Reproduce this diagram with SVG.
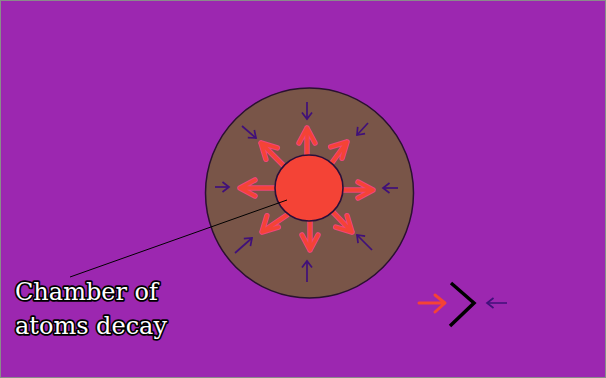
<svg xmlns="http://www.w3.org/2000/svg" xmlns:xlink="http://www.w3.org/1999/xlink" width="606" height="378" viewBox="0 0 606 378">
  <style>
    .bg { fill: #9c27b0; stroke: #8a8a8a; stroke-width: 1; }
    .chamber { fill: #795548; stroke: #2a1030; stroke-width: 1.5; }
    .core { fill: #f44336; stroke: #2a0f3a; stroke-width: 1.6; }
    .halo { stroke: #f0457a; stroke-width: 5.5; fill: none; stroke-linecap: round; stroke-linejoin: round; }
    .ray { stroke: #f44336; stroke-width: 3.5; fill: none; stroke-linecap: round; stroke-linejoin: round; }
    .inward { stroke: #40107a; stroke-width: 1.7; fill: none; marker-end: url(#smallHead); }
    .pointer { stroke: #000; stroke-width: 1; fill: none; }
    .label { font-family: "DejaVu Serif", "Liberation Serif", serif; font-size: 24px; fill: #fff; stroke: #000; stroke-width: 3.4; paint-order: stroke; stroke-linejoin: round; }
    .legendRed { stroke: #f44336; stroke-width: 3; fill: none; stroke-linecap: round; stroke-linejoin: round; }
    .chevron { stroke: #000; stroke-width: 3.5; fill: none; }
    .legendSmall { stroke: #40107a; stroke-width: 1.5; fill: none; marker-end: url(#smallHead); }
  </style>
  <defs>
    <marker id="smallHead" markerUnits="userSpaceOnUse" markerWidth="20" markerHeight="20" viewBox="-10 -10 20 20" refX="0" refY="0" orient="auto" overflow="visible">
      <path d="M-6.5,-5 L0,0 L-6.5,5" fill="none" stroke="#40107a" stroke-width="1.7"/>
    </marker>
    <g id="rays">
      <path d="M307,160 L307,128 M299,143 L307,128 L315,143"/>
      <path d="M310,215 L310,250 M302,235 L310,250 L318,235"/>
      <path d="M280,188 L240,188 M255,180 L240,188 L255,196"/>
      <path d="M338,190 L373,190 M358,182 L373,190 L358,198"/>
      <path d="M288,170 L261,143 M277.3,147.9 L261,143 L265.9,159.3"/>
      <path d="M331,164 L347,142 M342.1,158.3 L347,142 L330.7,146.9"/>
      <path d="M287,215 L262,232 M278.3,227.1 L262,232 L266.9,215.7"/>
      <path d="M331,210 L352,232 M347.1,215.7 L352,232 L335.7,227.1"/>
    </g>
  </defs>

  <rect class="bg" x="0.5" y="0.5" width="605" height="377"/>

  <g id="chamber">
    <ellipse class="chamber" cx="309.5" cy="193" rx="104" ry="105"/>
  </g>

  <g id="decay-rays">
    <use xlink:href="#rays" class="halo"/>
    <use xlink:href="#rays" class="ray"/>
  </g>

  <g id="core">
    <ellipse class="core" cx="309" cy="188" rx="34" ry="33"/>
  </g>

  <g id="pressure-arrows">
    <line class="inward" x1="307" y1="102" x2="307" y2="119"/>
    <line class="inward" x1="307" y1="282" x2="307" y2="261"/>
    <line class="inward" x1="215" y1="187" x2="229" y2="187"/>
    <line class="inward" x1="398" y1="188" x2="383" y2="188"/>
    <line class="inward" x1="242" y1="126" x2="256" y2="138"/>
    <line class="inward" x1="368" y1="123" x2="357" y2="135"/>
    <line class="inward" x1="235" y1="253" x2="252" y2="238"/>
    <line class="inward" x1="372" y1="250" x2="357" y2="235"/>
  </g>

  <g id="connectors">
    <line class="pointer" x1="70" y1="277" x2="287" y2="200"/>
  </g>

  <g id="label">
    <text class="label" x="15" y="300">Chamber of</text>
    <text class="label" x="15" y="334">atoms decay</text>
  </g>

  <g id="legend">
    <path class="legendRed" d="M419,303 L445,303 M435,295 L445,303 L435,312"/>
    <polyline class="chevron" points="451,283 474,303 450,326"/>
    <line class="legendSmall" x1="507" y1="303" x2="487" y2="303"/>
  </g>
</svg>
